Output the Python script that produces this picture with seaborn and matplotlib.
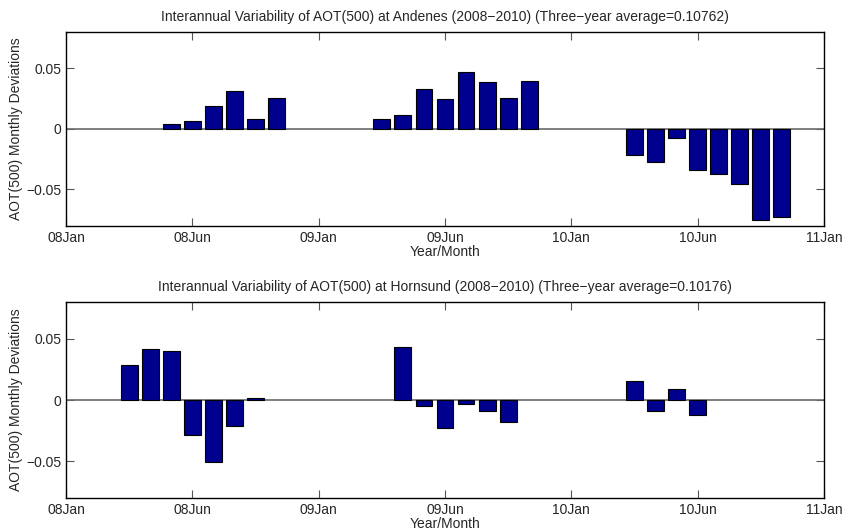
import numpy as np
import pandas as pd
import matplotlib
matplotlib.use("Agg")
import matplotlib.pyplot as plt
import seaborn as sns

# month index: 0 = Jan 2008
andenes_month = [5, 6, 7, 8, 9, 10,
                 15, 16, 17, 18, 19, 20, 21, 22,
                 27, 28, 29, 30, 31, 32, 33, 34]
andenes_dev = [0.0038, 0.0068, 0.0191, 0.0314, 0.0079, 0.0257,
               0.0082, 0.0115, 0.0325, 0.0243, 0.0464, 0.0388, 0.0251, 0.0391,
               -0.0216, -0.0273, -0.0079, -0.0336, -0.0377, -0.0459, -0.0751, -0.0724]

hornsund_month = [3, 4, 5, 6, 7, 8, 9,
                  16, 17, 18, 19, 20, 21,
                  27, 28, 29, 30]
hornsund_dev = [0.0283, 0.0418, 0.0404, -0.0286, -0.0505, -0.0214, 0.0014,
                0.0431, -0.0052, -0.0228, -0.0030, -0.0091, -0.0181,
                0.0159, -0.0091, 0.0088, -0.0124]

tick_pos = [0, 6, 12, 18, 24, 30, 36]
tick_labels = ["08Jan", "08Jun", "09Jan", "09Jun", "10Jan", "10Jun", "11Jan"]
titles = ["Interannual Variability of AOT(500) at Andenes (2008\u22122010) (Three\u2212year average=0.10762)",
          "Interannual Variability of AOT(500) at Hornsund (2008\u22122010) (Three\u2212year average=0.10176)"]

sns.set_style("white")
plt.rcParams['font.family'] = ['Liberation Sans', 'DejaVu Sans']

fig = plt.figure(figsize=(8.47, 5.32), dpi=100)
W, H = 847, 532
axes_px = [(66, 31.7, 824, 225.8), (66, 302.3, 824, 497.8)]
datasets = [(andenes_month, andenes_dev), (hornsund_month, hornsund_dev)]
FS = 10

for (x0, y0, x1, y1), (m, d), title in zip(axes_px, datasets, titles):
    ax = fig.add_axes([x0 / W, 1 - y1 / H, (x1 - x0) / W, (y1 - y0) / H])
    df = pd.DataFrame({"month": m, "dev": d})
    ax.axhline(0, color="#6a6a6a", lw=1.2, zorder=1)
    sns.barplot(data=df, x="month", y="dev", native_scale=True, width=0.8,
                color="#00008f", saturation=1, edgecolor="black", linewidth=0.8,
                ax=ax, zorder=2)
    ax.set_xlim(0, 36)
    ax.set_ylim(-0.08, 0.08)
    ax.set_xticks(tick_pos)
    ax.set_xticklabels(tick_labels)
    ax.set_yticks([-0.05, 0, 0.05])
    ax.set_yticklabels(["\u22120.05", "0", "0.05"])
    ax.tick_params(direction="in", length=6, width=0.8, color="#555555",
                   top=True, right=True, bottom=True, left=True,
                   labelsize=FS, pad=3.5)
    for s in ax.spines.values():
        s.set_visible(True)
        s.set_color("black")
        s.set_linewidth(1.0)
    ax.set_xlabel("Year/Month", fontsize=FS, labelpad=0)
    ax.set_ylabel("AOT(500) Monthly Deviations", fontsize=FS, labelpad=2)
    ax.set_title(title, fontsize=FS, pad=8)

fig.savefig("out.png", dpi=100, facecolor="white")
